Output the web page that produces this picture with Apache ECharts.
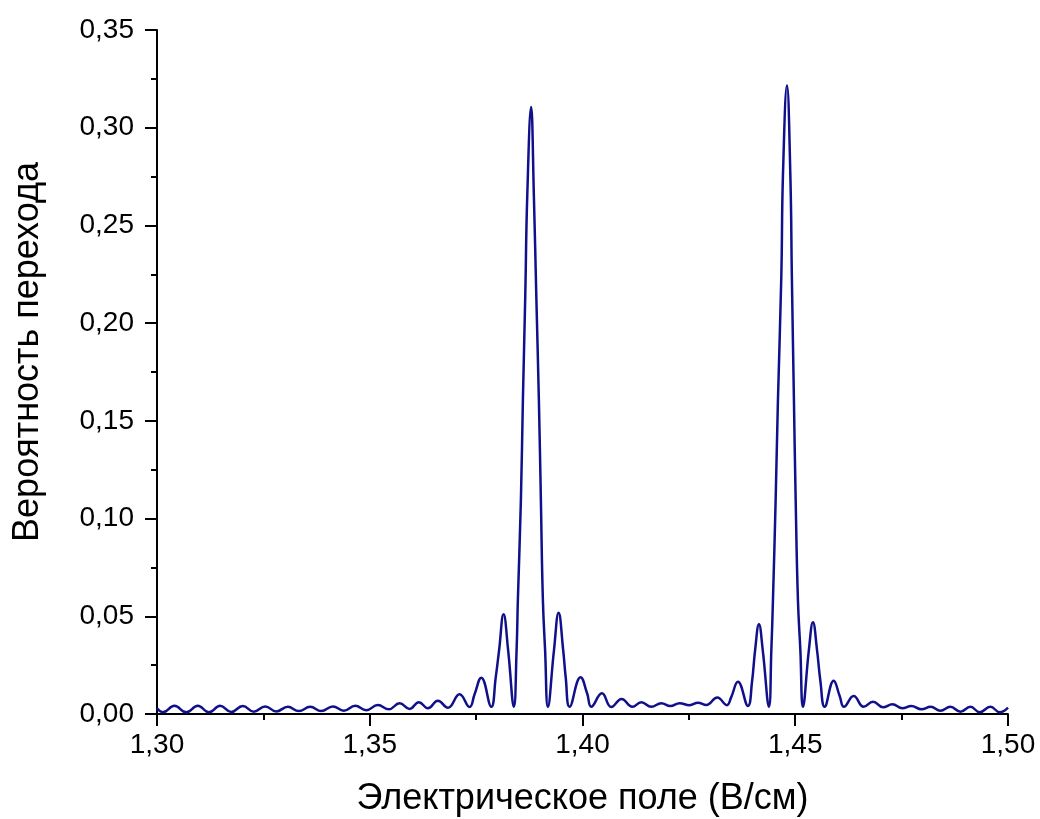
<!DOCTYPE html>
<html>
<head>
<meta charset="utf-8">
<script src="https://cdn.jsdelivr.net/npm/echarts@6/dist/echarts.min.js"></script>
<style>
html,body{margin:0;padding:0;background:#fff;}
#chart{width:1040px;height:819px;}
</style>
</head>
<body>
<div id="chart"></div>
<script>
// Electric field (V/cm)
const fieldValues = [
  1.3000, 1.30136, 1.30411, 1.30686, 1.30959, 1.31218, 1.31486, 1.31744, 1.32017, 1.32276,
  1.32543, 1.32802, 1.33075, 1.33333, 1.33601, 1.33860, 1.34133, 1.34391, 1.34659, 1.34918,
  1.35190, 1.35449, 1.35701, 1.35936, 1.36154, 1.36366, 1.36601, 1.36836, 1.37111, 1.37346,
  1.37464, 1.37621, 1.37856, 1.37960, 1.38040, 1.38145, 1.38252, 1.38387, 1.38451, 1.38481,
  1.38552, 1.38599, 1.38655, 1.38702, 1.38792, 1.38857, 1.38914, 1.38975, 1.39022, 1.39069,
  1.39121, 1.39187, 1.39330, 1.39438, 1.39546, 1.39605, 1.39697, 1.39955, 1.40108, 1.40207,
  1.40456, 1.40677, 1.40919, 1.41171, 1.41382, 1.41617, 1.41852, 1.42064, 1.42283, 1.42518,
  1.42713, 1.42910, 1.43169, 1.43394, 1.43493, 1.43653, 1.43888, 1.43984, 1.44057, 1.44147,
  1.44236, 1.44382, 1.44438, 1.44476, 1.44539, 1.44593, 1.44673, 1.44711, 1.44805, 1.44885,
  1.44920, 1.44969, 1.45010, 1.45063, 1.45120, 1.45181, 1.45320, 1.45416, 1.45512, 1.45590,
  1.45691, 1.45903, 1.46044, 1.46145, 1.46373, 1.46608, 1.46827, 1.47062, 1.47283, 1.47518,
  1.47729, 1.47964, 1.48183, 1.48411, 1.48646, 1.48881, 1.49116, 1.49335, 1.49586, 1.49805,
  1.5000
];
// Transition probability
const probabilityValues = [
  0.0029, 0.0009, 0.0042, 0.0009, 0.0042, 0.0009, 0.0042, 0.0010, 0.0041, 0.0012,
  0.0039, 0.0013, 0.0037, 0.0015, 0.0037, 0.0015, 0.0039, 0.0017, 0.0042, 0.0019,
  0.0046, 0.0024, 0.0055, 0.0026, 0.0060, 0.0029, 0.0068, 0.0032, 0.0101, 0.0036,
  0.0101, 0.0186, 0.0037, 0.0186, 0.0327, 0.0510, 0.0327, 0.0037, 0.0327, 0.0583,
  0.1094, 0.1605, 0.2142, 0.2653, 0.3106, 0.2653, 0.2142, 0.1605, 0.1094, 0.0583,
  0.0327, 0.0037, 0.0327, 0.0518, 0.0327, 0.0188, 0.0037, 0.0188, 0.0106, 0.0037,
  0.0106, 0.0036, 0.0077, 0.0037, 0.0060, 0.0037, 0.0055, 0.0041, 0.0055, 0.0045,
  0.0058, 0.0046, 0.0085, 0.0045, 0.0085, 0.0165, 0.0041, 0.0165, 0.0327, 0.0459,
  0.0327, 0.0037, 0.0327, 0.0583, 0.1094, 0.1605, 0.2244, 0.2756, 0.3216, 0.2756,
  0.2244, 0.1605, 0.1094, 0.0583, 0.0327, 0.0037, 0.0327, 0.0469, 0.0327, 0.0170,
  0.0037, 0.0170, 0.0092, 0.0037, 0.0092, 0.0037, 0.0063, 0.0034, 0.0050, 0.0029,
  0.0041, 0.0024, 0.0037, 0.0017, 0.0037, 0.0012, 0.0037, 0.0009, 0.0037, 0.0009,
  0.0033
];
const xAxisTitle = 'Электрическое поле (В/см)';
const yAxisTitle = 'Вероятность перехода';

const seriesData = fieldValues.map((x, i) => [x, probabilityValues[i]]);
const commaFmt = v => v.toFixed(2).replace('.', ',');
const FONT = "'Liberation Sans', Arial, sans-serif";

const chart = echarts.init(document.getElementById('chart'), null, {renderer: 'canvas'});
chart.setOption({
  animation: false,
  backgroundColor: '#ffffff',
  grid: {left: 157, right: 32, top: 30, bottom: 105, containLabel: false, outerBoundsMode: 'none'},
  xAxis: {
    type: 'value', min: 1.30, max: 1.50, interval: 0.05,
    name: xAxisTitle, nameLocation: 'middle', nameGap: 67,
    nameTextStyle: {fontSize: 36, color: '#000', fontFamily: FONT},
    axisLine: {show: true, onZero: false, lineStyle: {color: '#000', width: 2}},
    axisTick: {show: true, length: 12, lineStyle: {color: '#000', width: 2}},
    minorTick: {show: true, splitNumber: 2, length: 6, lineStyle: {color: '#000', width: 2}},
    splitLine: {show: false},
    axisLabel: {fontSize: 28, color: '#000', fontFamily: FONT, margin: 17, formatter: commaFmt}
  },
  yAxis: {
    type: 'value', min: 0, max: 0.35, interval: 0.05,
    name: yAxisTitle, nameLocation: 'middle', nameGap: 111,
    nameTextStyle: {fontSize: 36, color: '#000', fontFamily: FONT, padding: [0, 0, 0, 40]},
    axisLine: {show: true, lineStyle: {color: '#000', width: 2}},
    axisTick: {show: true, length: 12, lineStyle: {color: '#000', width: 2}},
    minorTick: {show: true, splitNumber: 2, length: 6, lineStyle: {color: '#000', width: 2}},
    splitLine: {show: false},
    axisLabel: {fontSize: 28, color: '#000', fontFamily: FONT, margin: 23, formatter: commaFmt}
  },
  series: [{
    type: 'line',
    data: seriesData,
    showSymbol: false,
    symbol: 'none',
    smooth: 0.45,
    lineStyle: {color: '#10108a', width: 2.5},
    clip: true
  }]
});
</script>
</body>
</html>
